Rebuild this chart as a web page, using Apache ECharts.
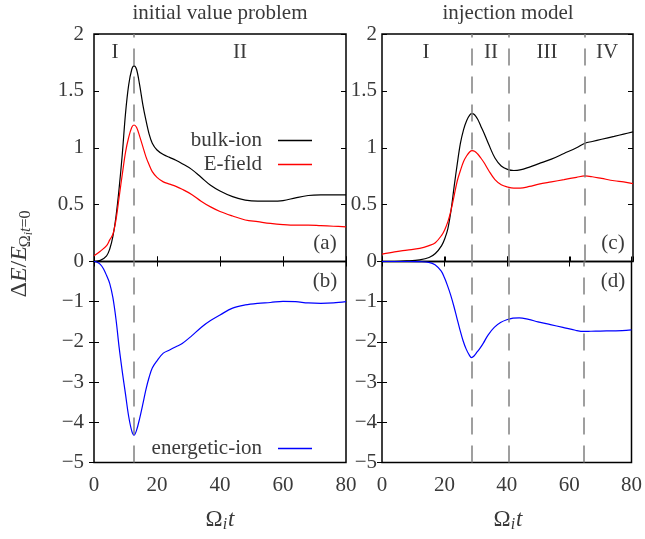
<!DOCTYPE html>
<html>
<head>
<meta charset="utf-8">
<script src="https://cdn.jsdelivr.net/npm/echarts@6/dist/echarts.min.js"></script>
<style>
  html, body { margin: 0; padding: 0; background: #fff; }
  #chart { width: 645px; height: 539px; }
</style>
</head>
<body>
<div id="chart"></div>
<script>
// ---- initial value problem (a), (b)
const tLeft = [0, 2, 4, 5, 6, 7, 8, 9, 10, 11, 12, 12.7, 13.5, 14.5, 15.5, 16.5, 17.5, 18.5, 20, 22, 24, 26, 28, 31, 34, 37, 40, 44, 48, 52, 56, 60, 64, 68, 72, 76, 80];
const bulkLeft = [0, 0.01, 0.05, 0.11, 0.22, 0.40, 0.65, 0.95, 1.30, 1.55, 1.69, 1.72, 1.69, 1.55, 1.38, 1.24, 1.12, 1.04, 0.98, 0.94, 0.915, 0.89, 0.86, 0.81, 0.74, 0.67, 0.62, 0.57, 0.54, 0.53, 0.53, 0.535, 0.56, 0.58, 0.585, 0.585, 0.585];
const fieldLeft = [0.05, 0.09, 0.14, 0.19, 0.24, 0.37, 0.57, 0.77, 0.96, 1.09, 1.18, 1.20, 1.18, 1.10, 1.01, 0.92, 0.85, 0.79, 0.74, 0.70, 0.68, 0.66, 0.635, 0.59, 0.53, 0.48, 0.44, 0.40, 0.365, 0.35, 0.335, 0.325, 0.32, 0.32, 0.315, 0.31, 0.305];
const tLeftB = [0, 1, 2, 3, 4, 5, 6, 7, 8, 9, 10, 11, 12, 12.7, 13.5, 14.5, 15.5, 16.5, 17.5, 18.5, 20, 22, 24, 26, 28, 31, 34, 37, 40, 44, 48, 52, 56, 60, 64, 68, 72, 76, 80];
const energLeft = [0, -0.02, -0.07, -0.18, -0.35, -0.55, -0.9, -1.45, -2.15, -2.75, -3.3, -3.85, -4.22, -4.32, -4.2, -3.9, -3.55, -3.18, -2.88, -2.65, -2.47, -2.28, -2.2, -2.12, -2.04, -1.85, -1.64, -1.47, -1.33, -1.16, -1.08, -1.04, -1.02, -0.99, -1.0, -1.03, -1.04, -1.03, -1.0];

// ---- injection model (c), (d)
const tRight = [0, 4, 8, 12, 15, 17, 19, 20, 21, 22, 23, 24, 25, 26, 27, 28, 28.7, 29.5, 30.5, 31.5, 32.5, 34, 36, 38, 40, 42, 44, 47, 50, 54, 58, 62, 64.7, 67, 70, 74, 77, 80];
const bulkRight = [0, 0, 0.005, 0.015, 0.035, 0.07, 0.14, 0.2, 0.29, 0.45, 0.66, 0.86, 1.04, 1.16, 1.24, 1.29, 1.30, 1.29, 1.25, 1.19, 1.13, 1.03, 0.91, 0.84, 0.81, 0.80, 0.805, 0.83, 0.86, 0.90, 0.95, 1.0, 1.04, 1.055, 1.075, 1.10, 1.12, 1.14];
const fieldRight = [0.065, 0.085, 0.1, 0.115, 0.14, 0.165, 0.23, 0.28, 0.35, 0.45, 0.58, 0.71, 0.8, 0.88, 0.93, 0.965, 0.975, 0.97, 0.945, 0.91, 0.87, 0.8, 0.72, 0.675, 0.655, 0.645, 0.645, 0.66, 0.68, 0.70, 0.72, 0.74, 0.752, 0.745, 0.73, 0.71, 0.7, 0.685];
const energRight = [0, 0, 0, -0.005, -0.02, -0.08, -0.24, -0.4, -0.6, -0.83, -1.1, -1.4, -1.7, -1.97, -2.18, -2.33, -2.39, -2.35, -2.25, -2.15, -2.03, -1.83, -1.64, -1.52, -1.45, -1.41, -1.40, -1.44, -1.5, -1.57, -1.64, -1.71, -1.74, -1.735, -1.73, -1.725, -1.72, -1.70];

// phase boundaries (dashed lines)
const phasesLeft = [12.7];
const phasesRight = [28.7, 40.5, 64.7];
const regionLeft = [['I', 115], ['II', 240]];
const regionRight = [['I', 426], ['II', 491], ['III', 547], ['IV', 607]];

const FONT = '"Liberation Serif", "Times New Roman", serif';
const TXT = '#3a3a3a';
const FS = 21;

function zip(xs, ys) {
  return xs.map((x, i) => [x, ys[i]]);
}

let chart = echarts.init(document.getElementById('chart'));

const grids = [
  { left: 94, top: 34, width: 252, height: 227.5 },
  { left: 94, top: 261.5, width: 252, height: 201 },
  { left: 382, top: 34, width: 251, height: 227.5 },
  { left: 382, top: 261.5, width: 251, height: 201 },
].map(g => Object.assign({ show: true, borderColor: '#000', borderWidth: 1.5, backgroundColor: 'transparent' }, g));

const tick = { show: true, inside: true, length: 5, lineStyle: { color: '#000', width: 1 } };

function xAx(grid, pos, labels) {
  return {
    type: 'value', gridIndex: grid, position: pos, min: 0, max: 80, interval: 20,
    axisLine: { show: false }, splitLine: { show: false },
    axisTick: tick,
    axisLabel: { show: labels, margin: 12, color: TXT, fontFamily: FONT, fontSize: FS }
  };
}

function yAx(grid, pos, top, labels, margin) {
  return {
    type: 'value', gridIndex: grid, position: pos,
    min: top ? 0 : -5, max: top ? 2 : 0, interval: top ? 0.5 : 1,
    axisLine: { show: false }, splitLine: { show: false },
    axisTick: tick,
    axisLabel: {
      show: labels, margin: margin, color: TXT, fontFamily: FONT, fontSize: FS,
      formatter: v => (!top && v === 0) ? '' : String(v).replace('-', '\u2212')
    }
  };
}

const xAxes = [
  xAx(0, 'bottom', false), xAx(1, 'bottom', true), xAx(1, 'top', false),
  xAx(2, 'bottom', false), xAx(3, 'bottom', true), xAx(3, 'top', false),
];
const yAxes = [
  yAx(0, 'left', true, true, 10), yAx(0, 'right', true, false, 0),
  yAx(1, 'left', false, true, 10), yAx(1, 'right', false, false, 0),
  yAx(2, 'left', true, true, 5), yAx(2, 'right', true, false, 0),
  yAx(3, 'left', false, true, 5), yAx(3, 'right', false, false, 0),
];

function dashes(xs) {
  return {
    silent: true, symbol: 'none', animation: false,
    label: { show: false },
    lineStyle: { color: '#808080', type: [17, 11], width: 1.5 },
    data: xs.map(x => ({ xAxis: x }))
  };
}

function line(name, data, color, xi, yi, mark) {
  let s = {
    name: name, type: 'line', data: data, xAxisIndex: xi, yAxisIndex: yi,
    showSymbol: false, smooth: 0.35, animation: false,
    lineStyle: { color: color, width: 1.2 }, itemStyle: { color: color }
  };
  if (mark) s.markLine = mark;
  return s;
}

const series = [
  line('bulk-ion', zip(tLeft, bulkLeft), '#000000', 0, 0),
  line('E-field', zip(tLeft, fieldLeft), '#ff0000', 0, 0, dashes(phasesLeft)),
  line('energetic-ion', zip(tLeftB, energLeft), '#0000ff', 1, 2, dashes(phasesLeft)),
  line('bulk-ion ', zip(tRight, bulkRight), '#000000', 3, 4),
  line('E-field ', zip(tRight, fieldRight), '#ff0000', 3, 4, dashes(phasesRight)),
  line('energetic-ion ', zip(tRight, energRight), '#0000ff', 4, 6, dashes(phasesRight)),
];

// pieces of math-like text, laid out with canvas measurement
const ctx = document.createElement('canvas').getContext('2d');
function fontOf(p) {
  return (p.it ? 'italic ' : '') + p.s + 'px ' + FONT;
}
function mathText(cx, cy, parts, rot) {
  let x = 0;
  let kids = [];
  parts.forEach(p => {
    ctx.font = fontOf(p);
    kids.push({
      type: 'text', x: x, y: p.dy || 0,
      style: { text: p.t, font: fontOf(p), fill: TXT, align: 'left', verticalAlign: 'middle' }
    });
    x += ctx.measureText(p.t).width + (p.sp || 0);
  });
  kids.forEach(k => { k.x -= x / 2; });
  return { type: 'group', x: cx, y: cy, rotation: rot || 0, children: kids };
}

const xName = [{ t: '\u03A9', s: 23 }, { t: 'i', s: 16, it: true, dy: 5, sp: 1 }, { t: 't', s: 23, it: true }];
const yName = [
  { t: '\u0394', s: 24 }, { t: 'E', s: 24, it: true }, { t: '/', s: 24 }, { t: 'E', s: 24, it: true, sp: -1 },
  { t: '\u03A9', s: 16, dy: 6 }, { t: 'i', s: 12, it: true, dy: 9 }, { t: 't', s: 16, it: true, dy: 6 }, { t: '=0', s: 16, dy: 6 }
];

function label(text, x, y) {
  return { type: 'text', x: x, y: y, style: { text: text, font: FS + 'px ' + FONT, fill: TXT, align: 'center', verticalAlign: 'middle' } };
}

const graphics = [
  label('initial value problem', 220, 13),
  label('injection model', 508, 13),
  label('(a)', 325, 243), label('(b)', 325, 281),
  label('(c)', 613, 243), label('(d)', 613, 281),
  mathText(220, 520, xName),
  mathText(508, 520, xName),
  mathText(20, 254, yName, Math.PI / 2),
].concat(regionLeft.map(r => label(r[0], r[1], 52)))
 .concat(regionRight.map(r => label(r[0], r[1], 52)));

const legendBase = {
  orient: 'vertical', align: 'right', right: 328, selectedMode: false,
  icon: 'rect', itemWidth: 34, itemHeight: 1.5, itemGap: 3,
  textStyle: { fontFamily: FONT, fontSize: FS, color: TXT, padding: [0, 11, 0, 0] }
};

let option = {
  animation: false,
  backgroundColor: '#fff',
  grid: grids,
  xAxis: xAxes,
  yAxis: yAxes,
  legend: [
    Object.assign({}, legendBase, { top: 125, data: ['bulk-ion', 'E-field'] }),
    Object.assign({}, legendBase, { top: 433, data: ['energetic-ion'] }),
  ],
  graphic: graphics,
  series: series
};
chart.setOption(option);
</script>
</body>
</html>
